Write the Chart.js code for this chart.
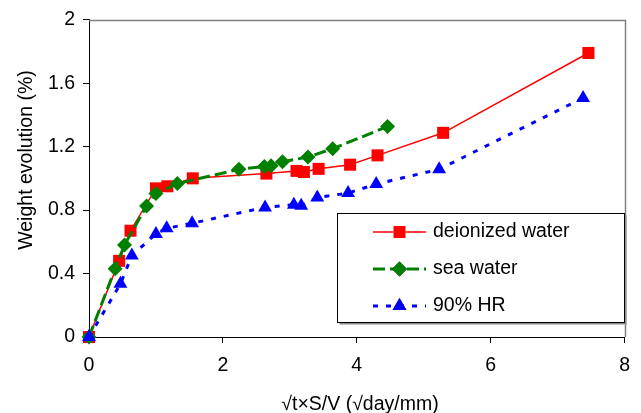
<!DOCTYPE html>
<html>
<head>
<meta charset="utf-8">
<script src="https://cdn.jsdelivr.net/npm/chart.js@4/dist/chart.umd.min.js"></script>
<style>
  html, body { margin: 0; padding: 0; background: #fff; }
  #wrap { width: 641px; height: 413px; }
</style>
</head>
<body>
<div id="wrap"><canvas id="c" width="641" height="413"></canvas></div>
<script>
// ---- data ----
const seriesLabels = ["deionized water", "sea water", "90% HR"];

const deionizedX = [0, 0.45, 0.62, 1.00, 1.17, 1.55, 2.65, 3.10, 3.21, 3.43, 3.90, 4.31, 5.29, 7.46];
const deionizedY = [0, 0.48, 0.67, 0.937, 0.95, 1.00, 1.03, 1.047, 1.04, 1.06, 1.086, 1.145, 1.287, 1.79];

const seaX = [0, 0.39, 0.53, 0.86, 1.00, 1.32, 2.24, 2.62, 2.72, 2.89, 3.27, 3.64, 4.46];
const seaY = [0, 0.43, 0.58, 0.826, 0.904, 0.967, 1.057, 1.075, 1.08, 1.105, 1.134, 1.187, 1.327];

const hrX = [0, 0.47, 0.64, 1.00, 1.16, 1.54, 2.63, 3.06, 3.17, 3.41, 3.87, 4.29, 5.23, 7.38];
const hrY = [0, 0.335, 0.513, 0.65, 0.685, 0.717, 0.817, 0.834, 0.827, 0.88, 0.907, 0.964, 1.057, 1.507];

const xTicks = [0, 2, 4, 6, 8];
const yTicks = [0, 0.4, 0.8, 1.2, 1.6, 2];
const xTitle = "\u221At\u00D7S/V (\u221Aday/mm)";
const yTitle = "Weight evolution (%)";

const FONT = "'Liberation Sans', Arial, Helvetica, sans-serif";
const FS = 19.5;

function pts(xs, ys) { return xs.map((x, i) => ({ x: x, y: ys[i] })); }

const datasets = [
  {
    label: seriesLabels[0], data: pts(deionizedX, deionizedY),
    borderColor: '#ff0000', backgroundColor: '#ff0000', borderWidth: 1.5,
    pointStyle: 'rect', pointRadius: 8.5, pointBorderWidth: 0, pointHoverRadius: 8.5,
    showLine: true, clip: false, order: 3
  },
  {
    label: seriesLabels[1], data: pts(seaX, seaY),
    borderColor: '#008000', backgroundColor: '#008000', borderWidth: 3, borderDash: [12, 5],
    pointStyle: 'rectRot', pointRadius: 7.5, pointBorderWidth: 0, pointHoverRadius: 7.5,
    showLine: true, clip: false, order: 2
  },
  {
    label: seriesLabels[2], data: pts(hrX, hrY),
    borderColor: '#0000ff', backgroundColor: '#0000ff', borderWidth: 3, borderDash: [5, 8],
    pointStyle: 'triangle', pointRadius: 8, pointBorderWidth: 0, pointHoverRadius: 8,
    showLine: true, clip: false, order: 1
  }
];

const decorPlugin = {
  id: 'decor',
  afterDraw(chart) {
    const ctx = chart.ctx;
    const a = chart.chartArea;
    ctx.save();
    // grey top and right frame
    ctx.strokeStyle = '#808080';
    ctx.lineWidth = 1.5;
    ctx.beginPath();
    ctx.moveTo(a.left, Math.round(a.top) + 0.5);
    ctx.lineTo(Math.round(a.right) + 0.5, Math.round(a.top) + 0.5);
    ctx.lineTo(Math.round(a.right) + 0.5, a.bottom);
    ctx.stroke();

    // legend box
    const bx = 337.5, by = 213.5, bw = 287, bh = 109;
    ctx.fillStyle = '#8a8a8a';
    ctx.fillRect(bx + 2, by + 2, bw, bh);
    ctx.fillStyle = '#ffffff';
    ctx.fillRect(bx, by, bw, bh);
    ctx.strokeStyle = '#000000';
    ctx.lineWidth = 1;
    ctx.strokeRect(bx, by, bw, bh);

    const rows = [232, 269, 306];
    chart.data.datasets.forEach((ds, i) => {
      const y = rows[i];
      const meta = chart.getDatasetMeta(i);
      const x0 = 373, x1 = 426, xm = 399.5;
      ctx.save();
      ctx.strokeStyle = ds.borderColor;
      ctx.lineWidth = ds.borderWidth;
      ctx.setLineDash(ds.borderDash || []);
      ctx.beginPath();
      ctx.moveTo(x0, y);
      ctx.lineTo(x1, y);
      ctx.stroke();
      ctx.restore();
      Chart.helpers.drawPoint(ctx, {
        pointStyle: ds.pointStyle, radius: ds.pointRadius, borderWidth: 0, rotation: 0
      }, xm, y);
      ctx.fillStyle = ds.backgroundColor;
      ctx.fill();
      ctx.fillStyle = '#000';
      ctx.font = FS + 'px ' + FONT;
      ctx.textAlign = 'left';
      ctx.textBaseline = 'middle';
      ctx.fillText(ds.label, 433, y);
    });

    // axis titles
    ctx.fillStyle = '#000';
    ctx.font = FS + 'px ' + FONT;
    ctx.textAlign = 'center';
    ctx.textBaseline = 'middle';
    ctx.fillText(xTitle, 360, 405);
    ctx.save();
    ctx.translate(27, 160);
    ctx.rotate(-Math.PI / 2);
    ctx.fillText(yTitle, 0, 0);
    ctx.restore();
    ctx.restore();
  }
};

new Chart(document.getElementById('c'), {
  type: 'scatter',
  data: { datasets: datasets },
  plugins: [decorPlugin],
  options: {
    responsive: false,
    animation: false,
    events: [],
    layout: { padding: { top: 19, right: 16, left: 0, bottom: 0 } },
    plugins: { legend: { display: false }, tooltip: { enabled: false } },
    scales: {
      x: {
        type: 'linear', min: 0, max: 8,
        afterFit(s) { s.height = 76; },
        afterBuildTicks(s) { s.ticks = xTicks.map(v => ({ value: v })); },
        grid: { drawOnChartArea: false, drawTicks: true, tickLength: 6, color: '#000' },
        border: { display: true, color: '#000', width: 1 },
        ticks: { color: '#000', padding: 11, font: { family: FONT, size: FS }, maxRotation: 0,
                 callback: v => String(v) }
      },
      y: {
        type: 'linear', min: 0, max: 2,
        afterFit(s) { s.width = 89; },
        afterBuildTicks(s) { s.ticks = yTicks.map(v => ({ value: v })); },
        grid: { drawOnChartArea: false, drawTicks: true, tickLength: 6, color: '#000' },
        border: { display: true, color: '#000', width: 1 },
        ticks: { color: '#000', padding: 8, font: { family: FONT, size: FS },
                 callback: v => String(Math.round(v * 10) / 10) }
      }
    }
  }
});
</script>
</body>
</html>
